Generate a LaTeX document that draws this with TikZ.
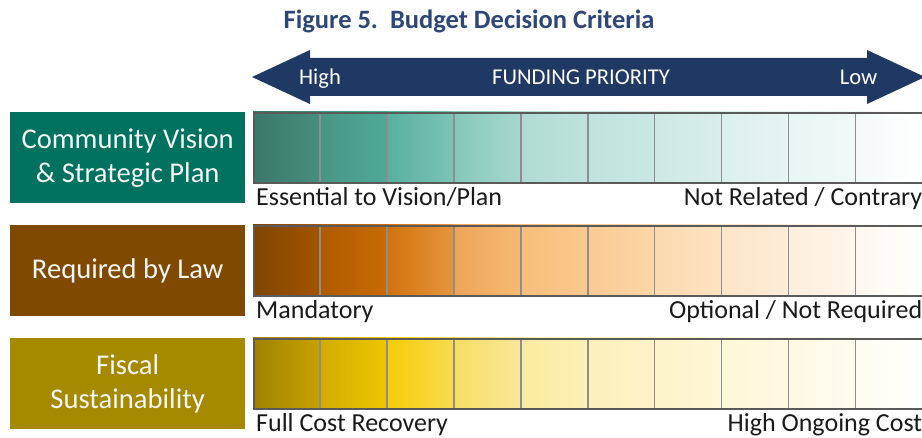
\documentclass[tikz,border=0pt]{standalone}
\usepackage{fontspec}
\setmainfont{Carlito}
\definecolor{titleblue}{HTML}{2C4778}
\definecolor{navy}{HTML}{1F3864}
\definecolor{visionteal}{HTML}{00725F}
\definecolor{lawbrown}{HTML}{7F4A00}
\definecolor{fiscalgold}{HTML}{A58A00}
\definecolor{frame}{HTML}{5A5A5A}
\definecolor{divider}{HTML}{8E8E8E}
\definecolor{boxtext}{HTML}{F4F4F4}
\definecolor{labeltext}{HTML}{1A1A1A}

% one shaded cell of a priority bar: {top y}{cell index}{left HTML}{right HTML}
\newcommand\barcell[4]{%
  \definecolor{cellL}{HTML}{#3}\definecolor{cellR}{HTML}{#4}%
  \shade[left color=cellL,right color=cellR]
    ({253+#2*66.95},#1) rectangle ++(66.95,70);}

% the nine separators and the frame of a bar whose top is at #1, named #2
\newcommand\barframe[2]{%
  \foreach \k in {1,...,9}
    \draw[divider,line width=1.5pt] ({253+\k*66.95},#1) -- ++(0,70);
  \node[draw=frame,line width=2.4pt,minimum width=669.5pt,minimum height=70pt,
        inner sep=0pt,anchor=north west] (#2) at (253,#1) {};}

\begin{document}
\begin{tikzpicture}[x=1pt,y=-1pt,
  critbox/.style={minimum width=235pt,minimum height=91pt,inner sep=0pt,
    align=center,text=boxtext,font=\fontsize{28.6}{34}\selectfont},
  barlabel/.style={text=labeltext,font=\fontsize{26}{30}\selectfont,inner sep=0pt},
  arrowlabel/.style={text=white,font=\fontsize{22.6}{26}\selectfont,inner sep=0pt,anchor=base}]
\useasboundingbox (0,0) rectangle (922,438);
\clip (0,0) rectangle (922,438);

% title
\node[text=titleblue,font=\fontsize{26.5}{30}\selectfont\bfseries,anchor=base,inner sep=0pt]
  (title) at (469,29) {Figure 5.\ \ Budget Decision Criteria};

% funding priority double arrow
\fill[navy] (252,77) -- (310,50) -- (310,58) -- (867,58) -- (867,50) -- (925,77)
  -- (867,104) -- (867,96) -- (310,96) -- (310,104) -- cycle;
\node[arrowlabel] (high) at (320,85) {High};
\node[arrowlabel] (funding) at (581,85) {FUNDING PRIORITY};
\node[arrowlabel] (low) at (858.5,85) {Low};

% criteria boxes
\node[critbox,fill=visionteal,anchor=north west] (vision) at (10,112)
  {Community Vision\\\& Strategic Plan};
\node[critbox,fill=lawbrown,anchor=north west] (law) at (10,225)
  {Required by Law};
\node[critbox,fill=fiscalgold,anchor=north west] (fiscal) at (10,338)
  {Fiscal\\Sustainability};

% vision bar
\barcell{112}{0}{3B7868}{468E7E}
\barcell{112}{1}{489684}{50A896}
\barcell{112}{2}{58B09E}{7CC4B5}
\barcell{112}{3}{84C8BA}{A7D7CE}
\barcell{112}{4}{B0DBD3}{BEE2DC}
\barcell{112}{5}{C0E3DD}{CAE8E3}
\barcell{112}{6}{CDE9E4}{D8EEEA}
\barcell{112}{7}{DBF0EC}{E6F4F2}
\barcell{112}{8}{E8F5F3}{F0F9F8}
\barcell{112}{9}{F2FAF9}{FFFFFF}
\barframe{112}{visionbar}

% law bar
\barcell{225}{0}{7F4500}{A35500}
\barcell{225}{1}{AE5B00}{C96B05}
\barcell{225}{2}{D2710E}{E5963E}
\barcell{225}{3}{EDA458}{F6BA72}
\barcell{225}{4}{F8BE7A}{FAC98E}
\barcell{225}{5}{FACA92}{FCD6A8}
\barcell{225}{6}{FCD9AE}{FDE3C2}
\barcell{225}{7}{FDE5C8}{FEECD8}
\barcell{225}{8}{FEEEDC}{FFF5EA}
\barcell{225}{9}{FFF7EE}{FFFFFF}
\barframe{225}{lawbar}

% fiscal bar
\barcell{338}{0}{9F8300}{C6A200}
\barcell{338}{1}{D1AC00}{EEC600}
\barcell{338}{2}{F5CC05}{F8DC50}
\barcell{338}{3}{F8DE62}{FAE79A}
\barcell{338}{4}{FBEAA0}{FCF0B6}
\barcell{338}{5}{FCF0BA}{FDF3C8}
\barcell{338}{6}{FDF4CA}{FEF6D6}
\barcell{338}{7}{FEF7D8}{FEF9E2}
\barcell{338}{8}{FEF9E4}{FFFBEE}
\barcell{338}{9}{FFFCF0}{FFFFFF}
\barframe{338}{fiscalbar}

% scale end labels
\path (visionbar.south west) ++(3,21.5) node[barlabel,anchor=base west] (essential) {Essential to Vision/Plan};
\path (visionbar.south east) ++(-2.5,21.5) node[barlabel,anchor=base east] (contrary) {Not Related / Contrary};
\path (lawbar.south west) ++(3,21.5) node[barlabel,anchor=base west] (mandatory) {Mandatory};
\path (lawbar.south east) ++(-2.5,21.5) node[barlabel,anchor=base east] (optional) {Optional / Not Required};
\path (fiscalbar.south west) ++(3,21.5) node[barlabel,anchor=base west] (recovery) {Full Cost Recovery};
\path (fiscalbar.south east) ++(-2.5,21.5) node[barlabel,anchor=base east] (ongoing) {High Ongoing Cost};
\end{tikzpicture}
\end{document}
